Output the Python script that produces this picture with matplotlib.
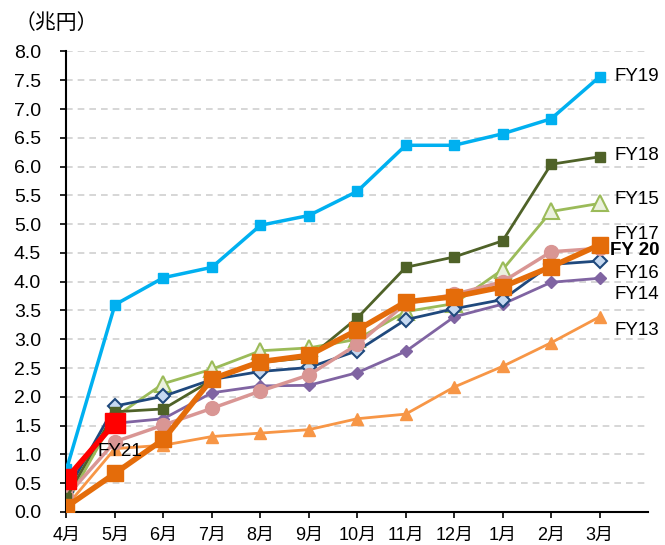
import matplotlib
matplotlib.use("Agg")
import matplotlib.pyplot as plt

plt.rcParams['font.family'] = ['Liberation Sans', 'Noto Sans CJK JP', 'DejaVu Sans']

months = ["4月", "5月", "6月", "7月", "8月", "9月", "10月", "11月", "12月", "1月", "2月", "3月"]
y_ticks = [0.0, 0.5, 1.0, 1.5, 2.0, 2.5, 3.0, 3.5, 4.0, 4.5, 5.0, 5.5, 6.0, 6.5, 7.0, 7.5, 8.0]

fy13 = [0.10, 1.10, 1.16, 1.31, 1.37, 1.43, 1.62, 1.70, 2.17, 2.53, 2.94, 3.39]
fy14 = [0.55, 1.54, 1.62, 2.07, 2.19, 2.20, 2.42, 2.79, 3.39, 3.61, 3.99, 4.06]
fy15 = [0.15, 1.65, 2.23, 2.48, 2.80, 2.85, 3.00, 3.48, 3.62, 4.21, 5.22, 5.36]
fy16 = [0.34, 1.84, 2.01, 2.30, 2.44, 2.51, 2.80, 3.34, 3.53, 3.69, 4.30, 4.36]
fy17 = [0.27, 1.22, 1.51, 1.80, 2.10, 2.38, 2.91, 3.62, 3.78, 4.00, 4.52, 4.58]
fy18 = [0.25, 1.74, 1.79, 2.29, 2.60, 2.68, 3.37, 4.25, 4.43, 4.71, 6.04, 6.17]
fy19 = [0.74, 3.60, 4.07, 4.25, 4.98, 5.15, 5.57, 6.37, 6.37, 6.57, 6.83, 7.56]
fy20 = [0.09, 0.67, 1.26, 2.31, 2.61, 2.72, 3.16, 3.65, 3.74, 3.91, 4.26, 4.64]
fy21 = [0.58, 1.55]

fig = plt.figure(figsize=(6.65, 5.45), dpi=100)
ax = fig.add_axes([0.0985, 0.0606, 0.876, 0.845])

x = list(range(len(months)))

ax.plot(x, fy13, color='#f79646', lw=2, marker='^', ms=8, mfc='#f79646', mec='#f79646', zorder=3)
ax.plot(x, fy14, color='#8064a2', lw=2, marker='D', ms=6.5, mfc='#8064a2', mec='#8064a2', zorder=3)
ax.plot(x, fy15, color='#9bbb59', lw=2, marker='^', ms=11, mfc='#ebf1de', mec='#9bbb59', mew=1.5, zorder=3)
ax.plot(x, fy16, color='#1f497d', lw=2, marker='D', ms=7, mfc='#c6d9f1', mec='#1f497d', mew=1.5, zorder=4)
ax.plot(x, fy17, color='#d99694', lw=2.5, marker='o', ms=10, mfc='#d99694', mec='#d99694', zorder=4)
ax.plot(x, fy18, color='#4f6228', lw=2, marker='s', ms=7, mfc='#4f6228', mec='#4f6228', zorder=4)
ax.plot(x, fy19, color='#00b0f0', lw=2.5, marker='s', ms=7, mfc='#00b0f0', mec='#00b0f0', zorder=5)
ax.plot(x, fy20, color='#e46c0a', lw=4, marker='s', ms=11, mfc='#e46c0a', mec='#e46c0a', zorder=6)
ax.plot(x[:len(fy21)], fy21, color='#ff0000', lw=4, marker='s', ms=15, mfc='#ff0000', mec='#ff0000', zorder=7)

ax.set_xlim(-0.02, 12.0)
ax.set_ylim(0, 8.0)
ax.set_yticks(y_ticks)
ax.set_yticklabels([f"{v:.1f}" for v in y_ticks], fontsize=14)
ax.set_xticks(x)
ax.set_xticklabels(months, fontsize=13)
ax.yaxis.grid(True, linestyle=(0, (4, 3)), color='#d0d0d0', lw=1.2)
ax.set_axisbelow(True)
for s in ['top', 'right']:
    ax.spines[s].set_visible(False)
ax.spines['left'].set_linewidth(1.5)
ax.spines['bottom'].set_linewidth(1.5)
ax.tick_params(axis='both', direction='out', length=4.5, width=1.2)
ax.tick_params(axis='y', pad=13)
ax.tick_params(axis='x', pad=6)

lab_fs = 13.5
ax.text(11.3, 7.56, "FY19", fontsize=lab_fs, va='center', ha='left')
ax.text(11.3, 6.20, "FY18", fontsize=lab_fs, va='center', ha='left')
ax.text(11.3, 5.42, "FY15", fontsize=lab_fs, va='center', ha='left')
ax.text(11.3, 4.82, "FY17", fontsize=lab_fs, va='center', ha='left')
ax.text(11.22, 4.55, "FY 20", fontsize=lab_fs, va='center', ha='left', fontweight='bold')
ax.text(11.3, 4.15, "FY16", fontsize=lab_fs, va='center', ha='left')
ax.text(11.3, 3.78, "FY14", fontsize=lab_fs, va='center', ha='left')
ax.text(11.3, 3.16, "FY13", fontsize=lab_fs, va='center', ha='left')
ax.text(0.63, 1.05, "FY21", fontsize=lab_fs, va='center', ha='left', zorder=8)

fig.text(0.085, 0.958, "（兆円）", fontsize=15, ha='center', va='center',
         family=['Noto Sans CJK JP', 'DejaVu Sans'])

fig.savefig("out.png", dpi=100)
